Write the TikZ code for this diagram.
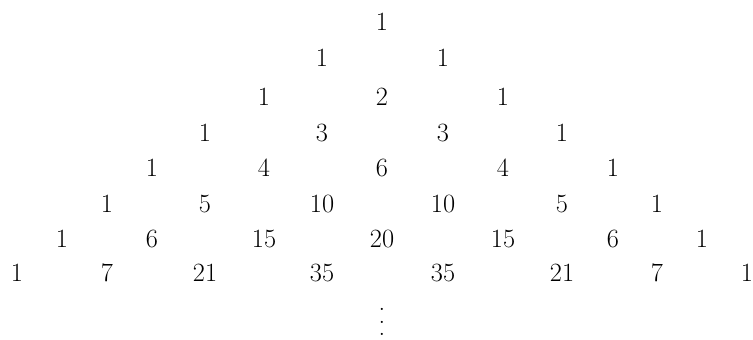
\documentclass[tikz,border=0pt]{standalone}
\usetikzlibrary{positioning}
\tikzset{
  every picture/.style={x=0.02cm, y=-0.02cm},
  entry/.style={inner sep=0pt, font=\fontsize{15}{17}\selectfont},
}
\begin{document}
\begin{tikzpicture}
  \useasboundingbox (0,0) rectangle (753,340);
  % rows 0..7, column c = 7-n+2k
  \foreach \n in {0,...,7}{\foreach \k in {0,...,\n}{
    \pgfmathtruncatemacro{\c}{7-\n+2*\k}
    \pgfmathsetmacro{\px}{{17,62,107,152,205,264,322,382,443,503,562,613,657,702,747}[\c]}
    \pgfmathsetmacro{\py}{{22,58,97,133,168,204,239,273}[\n]}
    \pgfmathtruncatemacro{\v}{factorial(\n)/(factorial(\k)*factorial(\n-\k))}
    \node[entry] (p-\n-\k) at (\px,\py) {\v};
  }}
  \node[entry] (dots) at (382,322) {\vbox{\baselineskip=7pt\hbox{.}\hbox{.}\hbox{.}}};
\end{tikzpicture}
\end{document}
